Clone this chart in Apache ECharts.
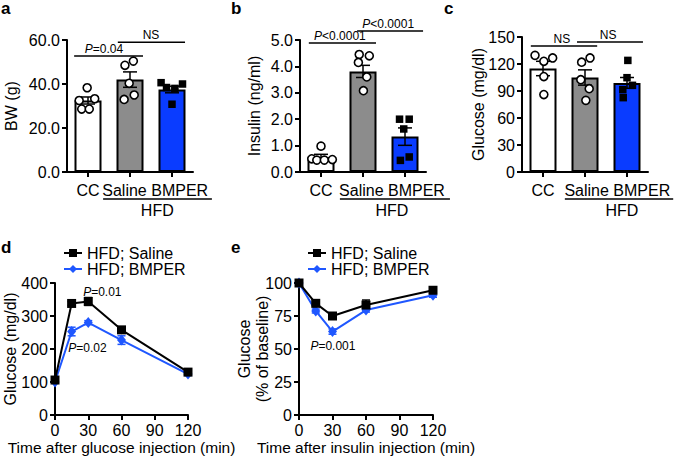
<!DOCTYPE html>
<html>
<head>
<meta charset="utf-8">
<script src="https://cdn.jsdelivr.net/npm/echarts@6/dist/echarts.min.js"></script>
<style>
  html, body { margin: 0; padding: 0; background: #fff; }
  #chart { width: 674px; height: 457px; }
</style>
</head>
<body>
<div id="chart"></div>
<script>
// ---- data ----
const groups = ['CC', 'Saline', 'BMPER']

// a: body weight (g)
const bwMean = [32.5, 42.0, 37.5]
const bwSem = [1.6, 3.5, 1.5]
const bwDots = [[38.3, 32.5, 33.3, 28.6, 28.6], [50.4, 48.5, 40.3, 33.0, 35.0], [40.6, 38.4, 38.0, 40.0, 30.8]]
const bwJitter = [[-0.02, -0.21, 0.16, -0.15, 0.03], [0.08, -0.12, -0.02, -0.14, 0.1], [-0.26, -0.13, 0.07, 0.25, 0]]

// b: insulin (ng/ml)
const insMean = [0.57, 3.81, 1.34]
const insSem = [0.1, 0.23, 0.33]
const insDots = [[0.98, 0.5, 0.45, 0.45, 0.47], [4.45, 4.4, 4.15, 3.6, 3.08], [2.0, 2.0, 1.63, 0.44, 0.57]]
const insJitter = [[0, -0.22, -0.1, 0.08, 0.27], [-0.09, 0.15, -0.11, 0.09, 0.01], [-0.13, 0.1, -0.03, -0.11, 0.1]]

// c: fasting glucose (mg/dl)
const gluMean = [115, 105, 99]
const gluSem = [8, 8.5, 6]
const gluDots = [[129.6, 123, 126.7, 106, 86], [122, 126.7, 102.6, 92.6, 79.6], [124, 104.8, 96.3, 91.5, 82.6]]
const gluJitter = [[-0.19, 0.02, 0.23, 0.02, 0.02], [-0.08, 0.12, -0.1, 0.1, 0.02], [0.02, 0, 0.13, -0.1, -0.09]]

// d, e: time courses
const timePoints = [0, 15, 30, 60, 120]
const seriesNames = ['HFD; Saline', 'HFD; BMPER']
const gttSaline = [106, 338, 344, 258, 130]
const gttSalineSem = [4, 6, 12, 6, 4]
const gttBmper = [100, 253, 280, 227, 124]
const gttBmperSem = [3, 13, 6, 13, 4]
const ittSaline = [100, 84.6, 75, 83.3, 94.5]
const ittSalineSem = [0.5, 1.5, 1.5, 3.8, 1.5]
const ittBmper = [100, 78.8, 63.2, 79.5, 90.7]
const ittBmperSem = [0.5, 1.5, 2, 1.5, 1.5]

// ---- styles ----
const FONT = 'Liberation Sans, Arial, Helvetica, sans-serif'
const BLUE = '#1f57ff'
const barColors = ['#ffffff', '#8c8c8c', '#0a3cff']

const chart = echarts.init(document.getElementById('chart'), null, { renderer: 'svg' })

function axisBase(extra) {
  return Object.assign({
    nameMoveOverlap: false,
    axisLine: { show: true, onZero: false, lineStyle: { color: '#000', width: 2 } },
    axisTick: { show: true, length: 5, lineStyle: { color: '#000', width: 2 } },
    axisLabel: { color: '#000', fontSize: 16, fontFamily: FONT, margin: 7 },
    splitLine: { show: false },
    nameTextStyle: { color: '#000', fontSize: 16, fontFamily: FONT }
  }, extra)
}

function errorBars(xIdx, yIdx, rows, color, cap) {
  return {
    type: 'custom', xAxisIndex: xIdx, yAxisIndex: yIdx, z: 3, silent: true,
    data: rows,
    renderItem: function (params, api) {
      const x = api.value(0)
      const hi = api.coord([x, api.value(2)])
      const lo = api.coord([x, api.value(1)])
      return { type: 'group', children: [
        { type: 'line', shape: { x1: hi[0], y1: hi[1], x2: lo[0], y2: lo[1] }, style: { stroke: color, lineWidth: 1.5 } },
        { type: 'line', shape: { x1: hi[0] - cap, y1: hi[1], x2: hi[0] + cap, y2: hi[1] }, style: { stroke: color, lineWidth: 1.5 } },
        { type: 'line', shape: { x1: lo[0] - cap, y1: lo[1], x2: lo[0] + cap, y2: lo[1] }, style: { stroke: color, lineWidth: 1.5 } }
      ] }
    }
  }
}

function pText(text, x, y, valign) {
  return {
    type: 'text', x: x, y: y,
    style: {
      text: text, fontSize: 12, fontFamily: FONT, fill: '#000',
      align: 'center', verticalAlign: valign || 'bottom',
      rich: { i: { fontStyle: 'italic', fontSize: 12, fontFamily: FONT, fill: '#000' } }
    }
  }
}

// bar panel layout + annotations
const barPanels = [
  {
    grid: { left: 67, top: 40, width: 126, height: 132 },
    mean: bwMean, sem: bwSem, dots: bwDots, jitter: bwJitter,
    max: 60, step: 20, digits: 1, name: 'BW (g)', nameGap: 48,
    brackets: [[-0.33, 1.31, 52.7, 0.38, '{i|P}=0.04'], [0.71, 2.31, 59, 1.5, 'NS']],
    labelX: 1.6, hfdLine: [0.36, 2.95], hfdX: 1.65
  },
  {
    grid: { left: 300, top: 40, width: 126, height: 132 },
    mean: insMean, sem: insSem, dots: insDots, jitter: insJitter,
    max: 5, step: 1, digits: 1, name: 'Insulin (ng/ml)', nameGap: 38,
    brackets: [[-0.29, 1.31, 4.89, 0.45, '{i|P}<0.0001'], [0.86, 2.43, 5.34, 1.6, '{i|P}<0.0001']],
    labelX: 1.69, hfdLine: [0.45, 3.07], hfdX: 1.69
  },
  {
    grid: { left: 522, top: 37, width: 126, height: 135 },
    mean: gluMean, sem: gluSem, dots: gluDots, jitter: gluJitter,
    max: 150, step: 30, digits: 0, name: 'Glucose (mg/dl)', nameGap: 36,
    brackets: [[-0.29, 1.29, 140, 0.45, 'NS'], [0.81, 2.38, 144.4, 1.55, 'NS']],
    labelX: 1.77, hfdLine: [0.52, 3.1], hfdX: 1.88
  }
]

const grids = []
const xAxes = []
const yAxes = []
const series = []

barPanels.forEach(function (p, i) {
  grids.push(p.grid)
  const cx = xAxes.length
  xAxes.push(axisBase({
    type: 'category', gridIndex: i, data: groups, boundaryGap: true,
    axisTick: { show: true, alignWithLabel: true, length: 5, lineStyle: { color: '#000', width: 2 } },
    axisLabel: { color: '#000', fontSize: 16, fontFamily: FONT, margin: 10, interval: 0,
      formatter: function (v, k) { return k === 0 ? v : '' } }
  }))
  const vx = xAxes.length
  xAxes.push({ type: 'value', gridIndex: i, min: -0.5, max: 2.5, show: false })
  yAxes.push(axisBase({
    type: 'value', gridIndex: i, min: 0, max: p.max, interval: p.step,
    name: p.name, nameLocation: 'middle', nameGap: p.nameGap,
    axisLabel: { color: '#000', fontSize: 16, fontFamily: FONT, margin: 7,
      formatter: function (v) { return v.toFixed(p.digits) } }
  }))

  series.push({
    type: 'bar', xAxisIndex: cx, yAxisIndex: i, barWidth: 27, z: 2, silent: true,
    data: p.mean,
    itemStyle: { color: function (d) { return barColors[d.dataIndex] }, borderColor: '#000', borderWidth: 2 }
  })
  series.push(errorBars(vx, i, p.mean.map(function (m, g) { return [g, m - p.sem[g], m + p.sem[g]] }), '#000', 7))

  const open = []
  const filled = []
  p.dots.forEach(function (vals, g) {
    vals.forEach(function (v, k) {
      (g === 2 ? filled : open).push([g + p.jitter[g][k], v])
    })
  })
  series.push({
    type: 'scatter', xAxisIndex: vx, yAxisIndex: i, z: 4, silent: true, symbol: 'circle', symbolSize: 8,
    itemStyle: { color: '#fff', borderColor: '#000', borderWidth: 1.6, opacity: 1 }, data: open
  })
  series.push({
    type: 'scatter', xAxisIndex: vx, yAxisIndex: i, z: 4, silent: true, symbol: 'rect', symbolSize: 7.5,
    itemStyle: { color: '#000', opacity: 1 }, data: filled
  })

  // significance brackets
  series.push({
    type: 'custom', xAxisIndex: vx, yAxisIndex: i, z: 5, silent: true, clip: false,
    data: p.brackets.map(function (b) { return [b[3], b[2]] }),
    renderItem: function (params, api) {
      const b = p.brackets[params.dataIndex]
      const a = api.coord([b[0], b[2]])
      const c = api.coord([b[1], b[2]])
      const t = api.coord([b[3], b[2]])
      return { type: 'group', children: [
        { type: 'line', shape: { x1: a[0], y1: a[1], x2: c[0], y2: c[1] }, style: { stroke: '#000', lineWidth: 1.5 } },
        pText(b[4], t[0], t[1] - 1)
      ] }
    }
  })

  // group labels under the axis
  series.push({
    type: 'custom', xAxisIndex: vx, yAxisIndex: i, z: 5, silent: true, clip: false,
    data: [[p.labelX, 0]],
    renderItem: function (params, api) {
      const base = api.coord([0, 0])[1]
      const lx = api.coord([p.labelX, 0])[0]
      const h1 = api.coord([p.hfdLine[0], 0])[0]
      const h2 = api.coord([p.hfdLine[1], 0])[0]
      const hx = api.coord([p.hfdX, 0])[0]
      const ts = { fontSize: 16, fontFamily: FONT, fill: '#000', align: 'center', verticalAlign: 'middle' }
      return { type: 'group', children: [
        { type: 'text', x: lx, y: base + 18, style: Object.assign({ text: 'Saline BMPER' }, ts) },
        { type: 'line', shape: { x1: h1, y1: base + 27, x2: h2, y2: base + 27 }, style: { stroke: '#000', lineWidth: 1.5 } },
        { type: 'text', x: hx, y: base + 38, style: Object.assign({ text: 'HFD' }, ts) }
      ] }
    }
  })
})

// time-course panels
const linePanels = [
  {
    grid: { left: 54, top: 283, width: 134, height: 132 },
    saline: gttSaline, salineSem: gttSalineSem, bmper: gttBmper, bmperSem: gttBmperSem,
    max: 400, step: 100, name: 'Glucose (mg/dl)', nameGap: 36,
    xName: 'Time after glucose injection (min)', legendLeft: 63,
    notes: [[42.7, 373.6, '{i|P}=0.01'], [29.3, 202, '{i|P}=0.02']]
  },
  {
    grid: { left: 299, top: 283, width: 134, height: 132 },
    saline: ittSaline, salineSem: ittSalineSem, bmper: ittBmper, bmperSem: ittBmperSem,
    max: 100, step: 25, name: 'Glucose\n(% of baseline)', nameGap: 28,
    xName: 'Time after insulin injection (min)', legendLeft: 307,
    notes: [[30.4, 52.3, '{i|P}=0.001']]
  }
]

const legends = []
linePanels.forEach(function (p) {
  const gi = grids.length
  grids.push(p.grid)
  const xi = xAxes.length
  xAxes.push(axisBase({
    type: 'value', gridIndex: gi, min: 0, max: 120, interval: 30,
    name: p.xName, nameLocation: 'middle', nameGap: 24,
    nameTextStyle: { color: '#000', fontSize: 15.5, fontFamily: FONT }
  }))
  const yi = yAxes.length
  yAxes.push(axisBase({
    type: 'value', gridIndex: gi, min: 0, max: p.max, interval: p.step,
    name: p.name, nameLocation: 'middle', nameGap: p.nameGap,
    nameTextStyle: { color: '#000', fontSize: 16, fontFamily: FONT, lineHeight: 18, align: 'center' }
  }))
  const pair = function (vals) { return timePoints.map(function (t, k) { return [t, vals[k]] }) }
  const band = function (vals, sem) { return timePoints.map(function (t, k) { return [t, vals[k] - sem[k], vals[k] + sem[k]] }) }

  series.push(errorBars(xi, yi, band(p.bmper, p.bmperSem), BLUE, 4))
  series.push(errorBars(xi, yi, band(p.saline, p.salineSem), '#000', 4))
  series.push({
    type: 'line', name: seriesNames[1], xAxisIndex: xi, yAxisIndex: yi, z: 4, silent: true,
    symbol: 'diamond', symbolSize: [9, 11], data: pair(p.bmper),
    lineStyle: { color: BLUE, width: 2 }, itemStyle: { color: BLUE }
  })
  series.push({
    type: 'line', name: seriesNames[0], xAxisIndex: xi, yAxisIndex: yi, z: 5, silent: true,
    symbol: 'rect', symbolSize: 9, data: pair(p.saline),
    lineStyle: { color: '#000', width: 2 }, itemStyle: { color: '#000' }
  })
  series.push({
    type: 'custom', xAxisIndex: xi, yAxisIndex: yi, z: 6, silent: true, clip: false,
    data: p.notes.map(function (n) { return [n[0], n[1]] }),
    renderItem: function (params, api) {
      const n = p.notes[params.dataIndex]
      const pt = api.coord([n[0], n[1]])
      return pText(n[2], pt[0], pt[1], 'middle')
    }
  })
  legends.push({
    orient: 'vertical', left: p.legendLeft, top: 245, padding: 0, itemGap: 0,
    itemWidth: 18, itemHeight: 10, data: seriesNames,
    textStyle: { color: '#000', fontSize: 16, fontFamily: FONT, lineHeight: 15 }
  })
})

const letterStyle = { color: '#000', fontSize: 17, fontWeight: 'bold', fontFamily: FONT }
const letters = [['a', 1, 0], ['b', 231, 0], ['c', 444, 0], ['d', 1, 239], ['e', 231, 239]]

chart.setOption({
  animation: false,
  backgroundColor: '#fff',
  title: letters.map(function (l) {
    return { text: l[0], left: l[1], top: l[2], padding: 0, textStyle: letterStyle }
  }),
  legend: legends,
  grid: grids,
  xAxis: xAxes,
  yAxis: yAxes,
  series: series
})
</script>
</body>
</html>
